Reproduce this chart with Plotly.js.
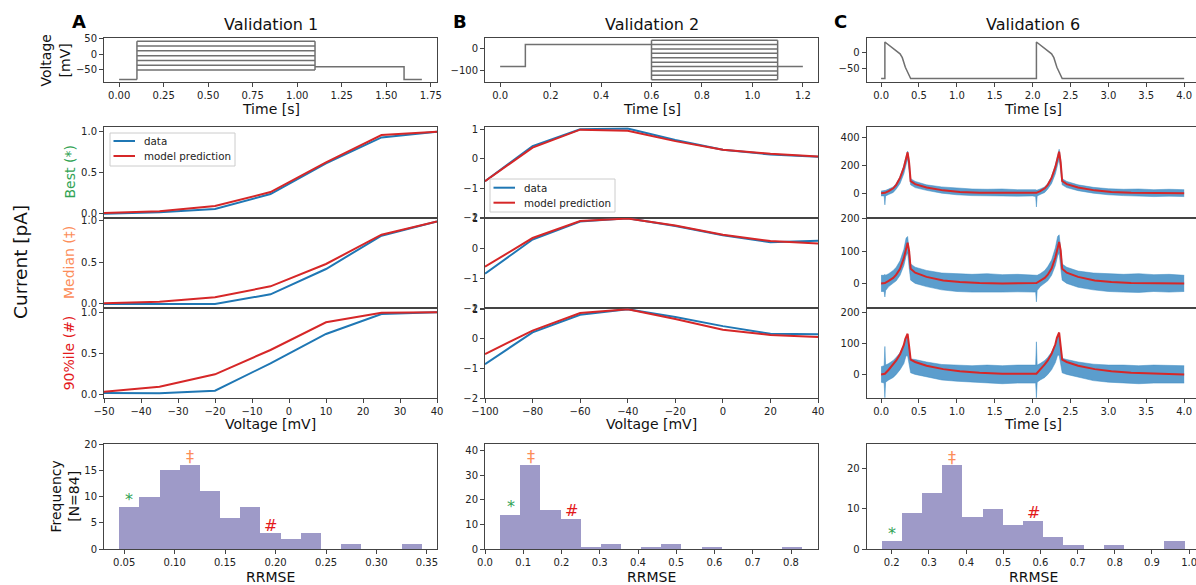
<!DOCTYPE html>
<html><head><meta charset="utf-8">
<script src="https://cdn.plot.ly/plotly-3.0.1.min.js"></script>
<style>html,body{margin:0;padding:0;overflow:hidden;background:#fff;width:1196px;height:585px}#chart{width:1200px;height:585px}</style>
</head><body><div id="chart"></div>
<script>
// ================= DATA =================
// --- voltage protocols ---
const protoA_time = [0, 0.1, 1.1, 1.6, 1.7];          // hold | step | tail | hold
const protoA_hold = -80, protoA_tail = -40;
const protoA_steps = [-50, -35, -20, -5, 10, 25, 40];

const protoB_time = [0, 0.1, 0.6, 1.1, 1.2];          // hold | prepulse | step | hold
const protoB_hold = -80, protoB_pre = 20;
const protoB_steps = [-140, -120, -100, -80, -60, -40, -20, 0, 20, 40];

const protoC_time = [0, 0.05, 0.05, 0.16, 0.25, 0.28, 0.32, 0.39, 2.05, 2.05, 2.16, 2.25, 2.28, 2.32, 2.39, 4.0];
const protoC_volt = [-80, -80, 34, 14, -3, -15, -45, -80, -80, 34, 14, -3, -15, -45, -80, -80];

// --- Validation 1 (I-V, normalised) ---
const vA = [-50, -35, -20, -5, 10, 25, 40];
const A_best_data   = [0.0, 0.016, 0.057, 0.24, 0.614, 0.93, 1.0];
const A_best_model  = [0.008, 0.03, 0.093, 0.264, 0.626, 0.96, 1.0];
const A_med_data    = [0.0, 0.0, 0.0, 0.116, 0.42, 0.82, 0.99];
const A_med_model   = [0.008, 0.028, 0.08, 0.212, 0.48, 0.832, 0.99];
const A_p90_data    = [0.02, 0.016, 0.049, 0.38, 0.737, 0.98, 1.0];
const A_p90_model   = [0.036, 0.097, 0.247, 0.543, 0.879, 0.996, 1.0];

// --- Validation 2 ---
const vB = [-100, -80, -60, -40, -20, 0, 20, 40];
const B_best_data   = [-0.76, 0.43, 1.0, 1.03, 0.64, 0.31, 0.146, 0.067];
const B_best_model  = [-0.76, 0.38, 0.99, 0.955, 0.6, 0.31, 0.17, 0.08];
const B_med_data    = [-0.84, 0.30, 0.9, 1.01, 0.75, 0.44, 0.21, 0.26];
const B_med_model   = [-0.61, 0.35, 0.92, 1.0, 0.77, 0.46, 0.25, 0.17];
const B_p90_data    = [-0.85, 0.22, 0.81, 1.0, 0.74, 0.43, 0.17, 0.16];
const B_p90_model   = [-0.51, 0.28, 0.87, 1.0, 0.67, 0.31, 0.13, 0.06];

// --- Validation 6 (time series) ---
const tC = [0, 0.05, 0.1, 0.16, 0.2, 0.25, 0.3, 0.32, 0.35, 0.37, 0.39, 0.45, 0.6, 0.82, 1.04, 1.3, 1.6,
            2.05, 2.1, 2.16, 2.2, 2.25, 2.3, 2.32, 2.35, 2.37, 2.39, 2.45, 2.6, 2.82, 3.04, 3.3, 3.6, 4.0];
const C_best_model = [0, 2, 15, 35, 60, 110, 185, 230, 296, 220, 87, 65, 41, 20, 9, 3, 1,
                      2, 15, 35, 60, 110, 188, 235, 300, 222, 88, 65, 41, 20, 9, 3, 1, 0];
const C_med_model  = [0, 1, 8, 17, 27, 45, 78, 100, 126, 100, 45, 33, 20, 9, 4, 1, 0,
                      1, 8, 17, 27, 46, 80, 102, 128, 102, 45, 33, 20, 9, 4, 1, 0, 0];
const C_p90_model  = [0, 2, 15, 32, 45, 65, 95, 115, 131, 90, 48, 40, 28, 17, 10, 5, 2,
                      2, 15, 32, 45, 66, 97, 118, 135, 92, 48, 40, 28, 17, 10, 5, 2, 0];

// recorded data shown as its envelope (upper / lower edge of the noisy trace)
const tBand = [0, 0.04, 0.05, 0.055, 0.06, 0.1, 0.16, 0.2, 0.25, 0.3, 0.33, 0.35, 0.37, 0.39, 0.45, 0.6, 0.8,
               1.0, 1.2, 1.4, 1.6, 1.8, 2.0, 2.04, 2.05, 2.055, 2.06, 2.1, 2.16, 2.2, 2.25, 2.3, 2.33, 2.35,
               2.37, 2.39, 2.45, 2.6, 2.8, 3.0, 3.2, 3.4, 3.6, 3.8, 4.0];
const C_best_up  = [15, 18, 20, 18, 20, 30, 45, 70, 120, 200, 270, 305, 240, 105, 85, 60, 45,
                    35, 30, 28, 30, 25, 28, 25, 22, 22, 22, 30, 45, 70, 120, 205, 285, 318,
                    245, 105, 85, 60, 42, 32, 28, 30, 25, 28, 25];
const C_best_lo  = [-20, -20, -85, -30, -20, -10, 5, 30, 70, 140, 220, 250, 160, 60, 40, 20, 0,
                    -12, -18, -20, -20, -22, -20, -25, -100, -30, -20, -10, 5, 30, 70, 140, 220, 250,
                    160, 60, 40, 18, 0, -12, -18, -22, -25, -22, -25];
const C_med_up   = [25, 25, 28, 25, 25, 30, 40, 50, 70, 105, 140, 145, 110, 60, 50, 40, 32,
                    30, 28, 30, 27, 28, 27, 25, 25, 25, 25, 30, 40, 52, 72, 110, 145, 150,
                    110, 60, 50, 38, 32, 30, 28, 30, 27, 28, 25];
const C_med_lo   = [-25, -25, -42, -25, -22, -10, 0, 8, 25, 55, 85, 95, 50, 10, 0, -10, -20,
                    -25, -27, -28, -27, -26, -25, -27, -57, -27, -22, -10, 0, 8, 25, 55, 85, 95,
                    50, 10, 0, -12, -20, -25, -27, -28, -25, -27, -25];
const C_p90_up   = [25, 28, 90, 30, 30, 35, 45, 55, 70, 95, 120, 118, 80, 50, 48, 40, 32,
                    30, 28, 30, 28, 30, 28, 30, 105, 30, 30, 35, 45, 55, 72, 98, 125, 122,
                    80, 52, 48, 40, 33, 30, 30, 28, 30, 28, 28];
const C_p90_lo   = [-25, -28, -75, -30, -25, -18, -10, 0, 15, 35, 60, 60, 30, 5, 0, -8, -18,
                    -22, -25, -28, -30, -28, -27, -28, -75, -30, -25, -18, -10, 0, 15, 38, 62, 62,
                    30, 5, 0, -8, -20, -25, -28, -30, -28, -27, -28];

// --- RRMSE histograms (N = 84) ---
const histA_counts = [8, 10, 15, 16, 11, 6, 8, 3, 2, 3, 0, 1, 0, 0, 1];
const histA_start = 0.045, histA_binw = 0.02;
const histB_counts = [14, 34, 16, 12, 1, 2, 0, 1, 2, 0, 1, 0, 0, 0, 1];
const histB_start = 0.0395, histB_binw = 0.05267;
const histC_counts = [2, 9, 14, 21, 8, 10, 6, 7, 3, 1, 0, 1, 0, 0, 2];
const histC_start = 0.173, histC_binw = 0.0543;
// markers: best (*), median (‡), 90th percentile (#) -> [x, y]
const markA = {best: [0.055, 10.1], med: [0.115, 17.6], p90: [0.195, 4.7]};
const markB = {best: [0.067, 18.8], med: [0.119, 37.8], p90: [0.227, 15.9]};
const markC = {best: [0.200, 4.9],  med: [0.363, 22.9], p90: [0.580, 9.3]};

const titles = ['Validation 1', 'Validation 2', 'Validation 6'];
const panelLetters = ['A', 'B', 'C'];
const rowLabels = ['Best (*)', 'Median (\u2021)', '90%ile (#)'];
const legendNames = ['data', 'model prediction'];

// ================= STYLE / LAYOUT =================
const W = 1200, H = 585;
const FONT = 'DejaVu Sans, sans-serif';
const BLUE = '#1f77b4', RED = '#d62728', GRAY = '#707070';
const GREEN = '#31a354', ORANGE = '#fc8d59', RED2 = '#e31a1c', PURPLE = '#9e9ac8';
const colPx = [[104, 437], [485, 818], [866.7, 1199.7]];
const rowPx = [[37.5, 81.7], [127.3, 217.7], [217.7, 308.3], [308.3, 398.3], [444, 549]];
const P = x => x / W, Q = y => 1 - y / H;

const layout = {
  width: W, height: H, margin: {l: 0, r: 0, t: 0, b: 0},
  paper_bgcolor: '#fff', plot_bgcolor: '#fff',
  font: {family: FONT, size: 10, color: '#222'},
  showlegend: false, bargap: 0,
  annotations: [], shapes: []
};

const axisCfg = [
  [{x: {range: [-0.085, 1.785], dtick: 0.25, tickformat: '.2f'}, y: {range: [-87, 52], dtick: 50}},
   {x: {range: [-0.06, 1.26], dtick: 0.2, tickformat: '.1f'}, y: {range: [-149, 52], dtick: 100}},
   {x: {range: [-0.19, 4.205], dtick: 0.5, tickformat: '.1f'}, y: {range: [-90, 48], dtick: 50}}],
  [{x: {range: [-50, 40], hide: true}, y: {range: [-0.049, 1.054], dtick: 0.5, tickformat: '.1f'}},
   {x: {range: [-100, 40], hide: true}, y: {range: [-2, 1.07], dtick: 1}},
   {x: {range: [-0.19, 4.205], hide: true}, y: {range: [-178, 477], dtick: 200}}],
  [{x: {range: [-50, 40], hide: true}, y: {range: [-0.052, 1.036], dtick: 0.5, tickformat: '.1f'}},
   {x: {range: [-100, 40], hide: true}, y: {range: [-2, 1.03], dtick: 1}},
   {x: {range: [-0.19, 4.205], hide: true}, y: {range: [-77, 203], dtick: 100}}],
  [{x: {range: [-50, 40], dtick: 10}, y: {range: [-0.044, 1.049], dtick: 0.5, tickformat: '.1f'}},
   {x: {range: [-100, 40], dtick: 20}, y: {range: [-2, 1.03], dtick: 1}},
   {x: {range: [-0.19, 4.205], dtick: 0.5, tickformat: '.1f'}, y: {range: [-77, 213], dtick: 100}}],
  [{x: {range: [0.03, 0.36], dtick: 0.05, tickformat: '.2f'}, y: {range: [0, 20], dtick: 5}},
   {x: {range: [0, 0.8706], dtick: 0.1, tickformat: '.1f'}, y: {range: [0, 42.7], dtick: 10}},
   {x: {range: [0.1326, 1.0284], dtick: 0.1, tickformat: '.1f'}, y: {range: [0, 26.2], dtick: 10}}]
];

function baseAxis() {
  return {showline: true, mirror: true, linecolor: '#444', linewidth: 1, ticks: 'outside', ticklen: 4,
          tickwidth: 1, tickcolor: '#444', showgrid: false, zeroline: false, tick0: 0,
          tickfont: {family: FONT, size: 10, color: '#222'}, fixedrange: true};
}
const ids = [];
for (let r = 0; r < 5; r++) {
  ids.push([]);
  for (let c = 0; c < 3; c++) {
    const k = r * 3 + c + 1;
    const xs = k === 1 ? 'x' : 'x' + k, ys = k === 1 ? 'y' : 'y' + k;
    ids[r].push({x: xs, y: ys});
    const cfg = axisCfg[r][c];
    const xa = Object.assign(baseAxis(), {domain: [P(colPx[c][0]), P(colPx[c][1])], anchor: ys, range: cfg.x.range});
    if (cfg.x.hide) { xa.showticklabels = false; xa.ticks = ''; }
    else { xa.dtick = cfg.x.dtick; if (cfg.x.tickformat) xa.tickformat = cfg.x.tickformat; }
    const ya = Object.assign(baseAxis(), {domain: [Q(rowPx[r][1]), Q(rowPx[r][0])], anchor: xs,
                                           range: cfg.y.range, dtick: cfg.y.dtick});
    if (cfg.y.tickformat) ya.tickformat = cfg.y.tickformat;
    layout[k === 1 ? 'xaxis' : 'xaxis' + k] = xa;
    layout[k === 1 ? 'yaxis' : 'yaxis' + k] = ya;
  }
}

// ================= TRACES =================
const traces = [];
function line(ax, x, y, color, width, extra) {
  traces.push(Object.assign({type: 'scatter', mode: 'lines', x: x, y: y, xaxis: ax.x, yaxis: ax.y,
    line: {color: color, width: width}, hoverinfo: 'skip', showlegend: false, connectgaps: false}, extra || {}));
}
// protocols: common segments drawn once, one horizontal segment per step level
(function () {
  const t = protoA_time, lo = Math.min(...protoA_steps, protoA_hold), hi = Math.max(...protoA_steps);
  const x = [t[0], t[1], null, t[1], t[1], null], y = [protoA_hold, protoA_hold, null, lo, hi, null];
  protoA_steps.forEach(v => { x.push(t[1], t[2], null); y.push(v, v, null); });
  x.push(t[2], t[2], null, t[2], t[3], t[3], t[4]);
  y.push(Math.min(...protoA_steps), hi, null, protoA_tail, protoA_tail, protoA_hold, protoA_hold);
  line(ids[0][0], x, y, GRAY, 1.5);
})();
(function () {
  const t = protoB_time, lo = Math.min(...protoB_steps), hi = Math.max(...protoB_steps, protoB_pre);
  const x = [t[0], t[1], t[1], t[2], null, t[2], t[2], null], y = [protoB_hold, protoB_hold, protoB_pre, protoB_pre, null, lo, hi, null];
  protoB_steps.forEach(v => { x.push(t[2], t[3], null); y.push(v, v, null); });
  x.push(t[3], t[3], null, t[3], t[4]);
  y.push(lo, Math.max(...protoB_steps), null, protoB_hold, protoB_hold);
  line(ids[0][1], x, y, GRAY, 1.5);
})();
line(ids[0][2], protoC_time, protoC_volt, GRAY, 1.5);

// I-V panels
const ivA = [[A_best_data, A_best_model], [A_med_data, A_med_model], [A_p90_data, A_p90_model]];
const ivB = [[B_best_data, B_best_model], [B_med_data, B_med_model], [B_p90_data, B_p90_model]];
ivA.forEach((pair, i) => {
  line(ids[i + 1][0], vA, pair[0], BLUE, 2, {name: legendNames[0]});
  line(ids[i + 1][0], vA, pair[1], RED, 2, {name: legendNames[1]});
});
ivB.forEach((pair, i) => {
  line(ids[i + 1][1], vB, pair[0], BLUE, 2, {name: legendNames[0]});
  line(ids[i + 1][1], vB, pair[1], RED, 2, {name: legendNames[1]});
});
// time-series panels
const tsC = [[C_best_lo, C_best_up, C_best_model], [C_med_lo, C_med_up, C_med_model], [C_p90_lo, C_p90_up, C_p90_model]];
tsC.forEach((s, i) => {
  const ax = ids[i + 1][2];
  line(ax, tBand, s[0], 'rgba(62,140,196,0.85)', 0.6);
  line(ax, tBand, s[1], 'rgba(62,140,196,0.85)', 0.6, {fill: 'tonexty', fillcolor: 'rgba(62,140,196,0.85)'});
  line(ax, tC, s[2], RED, 2);
});
// histograms
[[histA_counts, histA_start, histA_binw], [histB_counts, histB_start, histB_binw], [histC_counts, histC_start, histC_binw]]
.forEach((h, c) => {
  const ax = ids[4][c];
  traces.push({type: 'bar', x: h[0].map((_, i) => h[1] + (i + 0.5) * h[2]), y: h[0],
    width: h[0].map(() => h[2]), xaxis: ax.x, yaxis: ax.y, marker: {color: PURPLE, line: {width: 0}},
    hoverinfo: 'skip', showlegend: false});
});

// ================= LEGENDS (boxes drawn in figure space) =================
function legendBox(x0, y0, rowsY, lineX0, lineX1, textX) {
  layout.shapes.push({type: 'rect', xref: 'paper', yref: 'paper', x0: P(x0), x1: P(x0 + 125), y0: Q(y0 + 33), y1: Q(y0),
    line: {color: '#cccccc', width: 1}, fillcolor: 'rgba(255,255,255,0.85)', layer: 'above'});
  [BLUE, RED].forEach((col, i) => {
    layout.shapes.push({type: 'line', xref: 'paper', yref: 'paper', x0: P(lineX0), x1: P(lineX1), y0: Q(rowsY[i]), y1: Q(rowsY[i]),
      line: {color: col, width: 2}, layer: 'above'});
    layout.annotations.push({text: legendNames[i], x: P(textX), y: Q(rowsY[i]), xref: 'paper', yref: 'paper',
      xanchor: 'left', yanchor: 'middle', showarrow: false, font: {family: FONT, size: 10.3, color: '#222'}});
  });
}
legendBox(110, 133, [141, 156], 113.5, 135, 142);
legendBox(490, 179, [187.7, 202.7], 493.5, 515, 522);

// ================= TEXT =================
function ann(text, x, y, size, color, extra) {
  layout.annotations.push(Object.assign({text: text, x: P(x), y: Q(y), xref: 'paper', yref: 'paper',
    xanchor: 'center', yanchor: 'middle', showarrow: false,
    font: {family: FONT, size: size, color: color || '#111'}}, extra || {}));
}
const letterX = [79, 460, 840];
const colCenters = colPx.map(c => (c[0] + c[1]) / 2);
for (let c = 0; c < 3; c++) {
  ann('<b>' + panelLetters[c] + '</b>', letterX[c], 22, 18, '#000');
  ann(titles[c], colCenters[c], 25, 16, '#111');
  ann('Time [s]', colCenters[c], 109, 14, '#111');
  ann(c < 2 ? 'Voltage [mV]' : 'Time [s]', colCenters[c], 424, 14, '#111');
  ann('RRMSE', colCenters[c], 576.5, 14, '#111');
}
ann('Voltage<br>[mV]', 55, 59.6, 14, '#111', {textangle: -90});
ann('Current [pA]', 20, 262, 18.5, '#111', {textangle: -90});
const rowColors = [GREEN, ORANGE, RED2];
rowLabels.forEach((t, i) => ann(t, 69, (rowPx[i + 1][0] + rowPx[i + 1][1]) / 2, 14, rowColors[i], {textangle: -90}));
ann('Frequency<br>[N=84]', 64, 496.5, 14, '#111', {textangle: -90});

// histogram markers
[markA, markB, markC].forEach((m, c) => {
  const ax = ids[4][c];
  [['best', '*', GREEN, -4], ['med', '\u2021', ORANGE, 0], ['p90', '#', RED2, -1]].forEach(s => {
    layout.annotations.push({text: s[1], x: m[s[0]][0], y: m[s[0]][1], xref: ax.x, yref: ax.y,
      showarrow: false, xanchor: 'center', yanchor: 'middle', yshift: s[3],
      font: {family: FONT, size: 16, color: s[2]}});
  });
});

Plotly.newPlot('chart', traces, layout, {staticPlot: true, displayModeBar: false});
</script></body></html>
